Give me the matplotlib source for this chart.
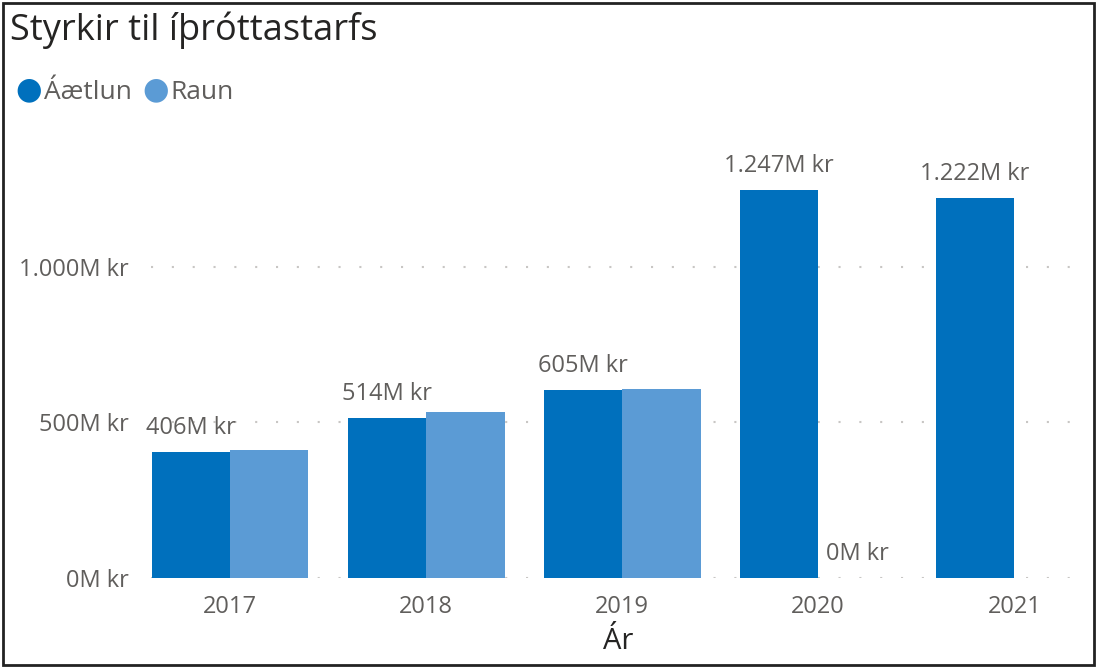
import numpy as np
import matplotlib
matplotlib.use("Agg")
import matplotlib.pyplot as plt
from matplotlib.patches import Rectangle

# data (M kr)
years = ["2017", "2018", "2019", "2020", "2021"]
aaetlun = [406, 514, 605, 1247, 1222]
raun = [413, 533, 609, 0, np.nan]
raun_label_shown = [False, False, False, True, False]
series_names = ["Áætlun", "Raun"]
y_ticks = [0, 500, 1000]

DARK = "#0070BD"
LIGHT = "#5B9BD5"
TEXT = "#605E5C"

plt.rcParams["font.family"] = ["Open Sans", "DejaVu Sans"]


def fmt(v):
    return f"{v:,.0f}M kr".replace(",", ".")


fig = plt.figure(figsize=(10.97, 6.69), dpi=100)
ax = fig.add_axes([0.1376, 0.136, 0.8514, 0.653])

x = np.arange(len(years))
w = 0.4
ax.bar(x - w / 2, aaetlun, w, color=DARK, zorder=2)
ax.bar(x + w / 2, raun, w, color=LIGHT, zorder=2)

for xi, v in zip(x, aaetlun):
    ax.annotate(fmt(v), (xi - w / 2, v), xytext=(0, 24), textcoords="offset pixels",
                ha="center", va="center", fontsize=17, color=TEXT, zorder=3)
for xi, v, show in zip(x, raun, raun_label_shown):
    if show:
        ax.annotate(fmt(v), (xi + w / 2, v), xytext=(0, 24), textcoords="offset pixels",
                    ha="center", va="center", fontsize=17, color=TEXT, zorder=3)

ax.set_xlim(-0.403, 4.36)
ax.set_ylim(0, 1404)
ax.set_yticks(y_ticks)
ax.set_yticklabels([fmt(v) for v in y_ticks])
ax.set_xticks(x)
ax.set_xticklabels(years)
ax.tick_params(length=0, labelsize=17, labelcolor=TEXT)
ax.tick_params(axis="y", pad=16)
ax.tick_params(axis="x", pad=12)
for s in ax.spines.values():
    s.set_visible(False)
ax.yaxis.grid(True, color="#C8C6C4", linestyle=(0, (1, 9)), linewidth=1.5, zorder=0)
ax.set_axisbelow(True)
ax.set_xlabel("Ár", fontsize=21, color="#252423", labelpad=6)

fig.text(0.009, 0.955, "Styrkir til íþróttastarfs", fontsize=26, color="#252423",
         ha="left", va="center")

# legend with dots
lx = 0.0265
for name, col in zip(series_names, [DARK, LIGHT]):
    fig.text(lx, 0.865, "●", fontsize=22, color=col, ha="center", va="center")
    t = fig.text(lx + 0.0135, 0.862, name, fontsize=19, color=TEXT, ha="left", va="center")
    fig.canvas.draw()
    bb = t.get_window_extent()
    lx = (bb.x1 / fig.bbox.width) + 0.0215

fig.patches.append(Rectangle((0.003, 0.006), 0.994, 0.99, transform=fig.transFigure,
                             fill=False, edgecolor="#222222", linewidth=2))

fig.savefig("out.png", dpi=100)
